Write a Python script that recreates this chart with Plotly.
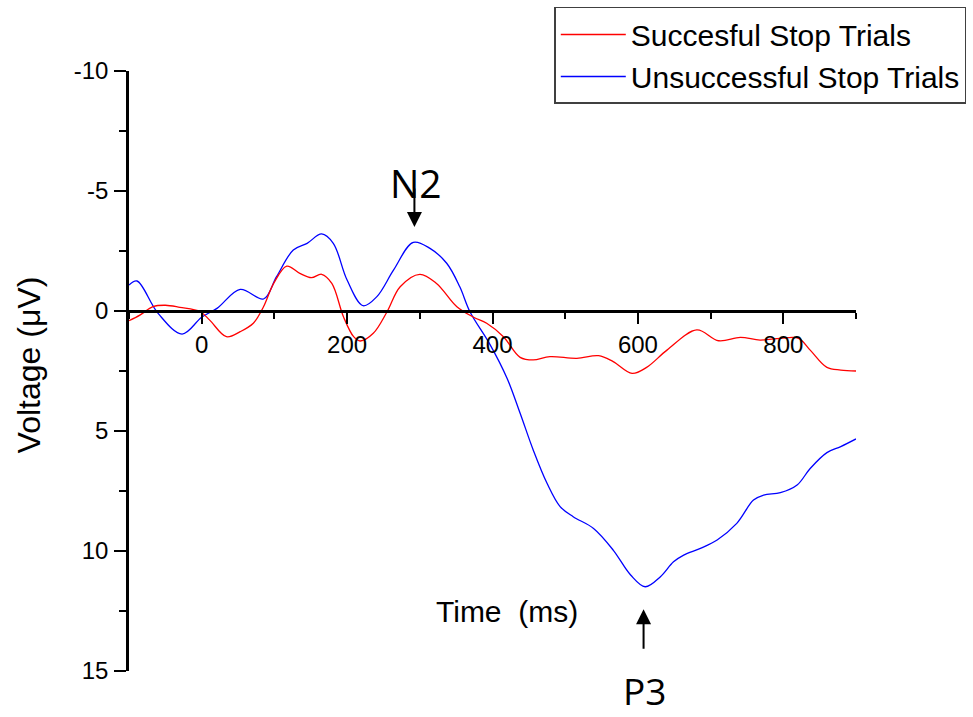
import plotly.graph_objects as go

# ---- data ----
unsucc_time = [-100, -89, -60, -27, 0, 21, 53, 85, 103, 126, 145, 165, 181, 200, 222, 241, 264, 291,
               314, 337, 355, 369, 397, 420, 438, 456, 475, 493, 511, 539, 566, 590, 610, 631, 649,
               663, 686, 709, 736, 759, 773, 796, 819, 837, 860, 879, 900]
unsucc_volt = [-1.08, -1.25, 0.1, 0.96, 0.26, -0.11, -0.9, -0.5, -1.43, -2.54, -2.82, -3.21, -2.82,
               -1.29, -0.22, -0.6, -1.71, -2.86, -2.61, -1.99, -1.01, 0.03, 1.42, 2.8, 4.26, 5.79,
               7.18, 8.15, 8.57, 9.06, 9.96, 11.0, 11.49, 11.07, 10.45, 10.17, 9.89, 9.54, 8.85,
               7.88, 7.67, 7.57, 7.25, 6.56, 5.9, 5.65, 5.33]

succ_time = [-100, -85, -67, -50, -30, -2, 11, 34, 53, 71, 85, 99, 117, 135, 151, 165, 179, 195, 209,
             218, 236, 255, 273, 300, 323, 351, 374, 392, 415, 438, 456, 479, 516, 546, 566, 592,
             612, 640, 681, 711, 741, 768, 796, 821, 837, 860, 879, 900]
succ_volt = [0.4, 0.17, -0.18, -0.24, -0.15, 0.03, 0.38, 1.07, 0.86, 0.51, -0.18, -1.15, -1.87, -1.57,
             -1.39, -1.53, -1.15, 0.24, 1.07, 1.25, 0.93, 0.03, -1.01, -1.53, -1.15, -0.18, 0.26,
             0.51, 1.07, 1.93, 2.04, 1.9, 1.97, 1.86, 2.11, 2.6, 2.35, 1.63, 0.79, 1.24, 1.1, 1.21,
             1.14, 1.14, 1.63, 2.35, 2.46, 2.5]

x_tickvals = [0, 200, 400, 600, 800]
x_ticktext = ["0", "200", "400", "600", "800"]
y_tickvals = [-10, -5, 0, 5, 10, 15]
y_ticktext = ["-10", "-5", "0", "5", "10", "15"]

series_names = ["Succesful Stop Trials", "Unsuccessful Stop Trials"]

# ---- figure ----
FONT = "Liberation Sans, Arial, sans-serif"
LABEL_FONT = "Open Sans, Noto Sans, sans-serif"

fig = go.Figure()
fig.add_trace(go.Scatter(x=unsucc_time, y=unsucc_volt, mode="lines", name=series_names[1],
                         line=dict(color="#0000ff", width=1.3, shape="spline", smoothing=1.0)))
fig.add_trace(go.Scatter(x=succ_time, y=succ_volt, mode="lines", name=series_names[0],
                         line=dict(color="#ff0000", width=1.3, shape="spline", smoothing=1.0)))

fig.update_layout(
    width=973, height=717,
    margin=dict(l=129, r=117, t=71, b=46, pad=0, autoexpand=False),
    paper_bgcolor="white", plot_bgcolor="white",
    font=dict(family=FONT, size=24, color="black"),
    showlegend=True,
    legend=dict(
        x=0.585, y=1.1067, xanchor="left", yanchor="top",
        traceorder="reversed",
        bordercolor="#404040", borderwidth=1.5, bgcolor="white",
        font=dict(family=FONT, size=30, color="black"),
        itemwidth=65, tracegroupgap=0,
    ),
    xaxis=dict(
        range=[-100, 900], anchor="free", position=0.6, automargin=False,
        showline=True, linecolor="black", linewidth=2.5,
        showgrid=False, zeroline=False,
        tickmode="array", tickvals=x_tickvals, ticktext=x_ticktext,
        ticks="outside", ticklen=11, tickwidth=2, tickcolor="black",
        minor=dict(dtick=100, tick0=0, ticks="outside", ticklen=6, tickwidth=2, tickcolor="black",
                   showgrid=False),
        tickfont=dict(family=FONT, size=24),
        ticklabelstandoff=0,
    ),
    yaxis=dict(
        range=[15, -10], automargin=False,
        showline=True, linecolor="black", linewidth=2.5,
        showgrid=False, zeroline=False,
        tickmode="array", tickvals=y_tickvals, ticktext=y_ticktext,
        ticks="outside", ticklen=12, tickwidth=2, tickcolor="black",
        minor=dict(dtick=2.5, tick0=0, ticks="outside", ticklen=7, tickwidth=2, tickcolor="black",
                   showgrid=False),
        tickfont=dict(family=FONT, size=24),
        ticklabelstandoff=1,
    ),
)

annotations = [
    # axis titles
    dict(text="Time\u00a0 (ms)", xref="paper", yref="paper", x=0.52, y=0.10,
         xanchor="center", yanchor="middle", showarrow=False,
         font=dict(family=FONT, size=30, color="black")),
    dict(text="Voltage (\u03bcV)", xref="paper", yref="paper", x=-0.137, y=0.51,
         xanchor="center", yanchor="middle", showarrow=False, textangle=-90,
         font=dict(family=FONT, size=32, color="black")),
    # N2 label and arrow
    dict(text="N2", xref="x", yref="y", x=295, y=-5.375, xanchor="center", yanchor="middle",
         showarrow=False, font=dict(family=LABEL_FONT, size=39, color="black")),
    dict(text="", xref="x", yref="y", x=292.6, y=-3.5, ax=0, ay=-40,
         showarrow=True, arrowhead=2, arrowsize=1.5, arrowwidth=2, arrowcolor="black"),
    # P3 label and arrow
    dict(text="P3", xref="paper", yref="paper", x=0.7097, y=-0.033, xanchor="center",
         yanchor="middle", showarrow=False, font=dict(family=LABEL_FONT, size=37, color="black")),
    dict(text="", xref="x", yref="y", x=607.8, y=12.43, ax=0, ay=41,
         showarrow=True, arrowhead=2, arrowsize=1.5, arrowwidth=2, arrowcolor="black"),
]
fig.update_layout(annotations=annotations)

fig.write_html("out.html")
